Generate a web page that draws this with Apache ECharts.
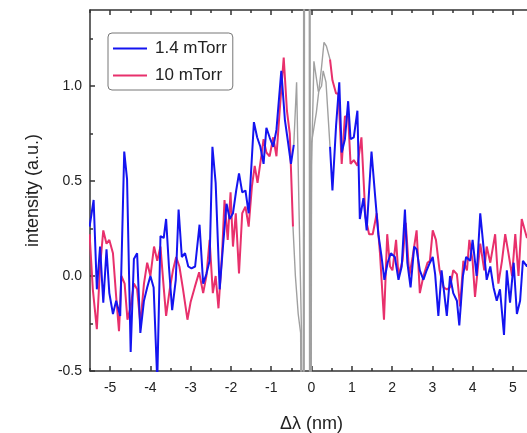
<!DOCTYPE html>
<html><head><meta charset="utf-8">
<script src="https://cdn.jsdelivr.net/npm/echarts@6/dist/echarts.min.js"></script>
<style>html,body{margin:0;padding:0;background:#fff}#c{width:527px;height:433px}</style>
</head><body><div id="c"></div>
<script>
// ---- data (Δλ in nm, intensity in a.u.) ----
var blueLeftX = [-5.51,-5.41,-5.33,-5.25,-5.17,-5.09,-5.02,-4.93,-4.85,-4.75,-4.65,-4.58,-4.49,-4.41,-4.33,-4.25,-4.16,-4.08,-4.00,-3.92,-3.83,-3.75,-3.67,-3.61,-3.54,-3.46,-3.37,-3.30,-3.22,-3.14,-3.06,-2.98,-2.89,-2.78,-2.69,-2.61,-2.53,-2.46,-2.38,-2.28,-2.20,-2.11,-2.03,-1.95,-1.87,-1.80,-1.72,-1.64,-1.56,-1.43,-1.35,-1.27,-1.19,-1.12,-1.04,-0.95,-0.87,-0.75,-0.66,-0.58,-0.51,-0.44];
var blueLeftY = [0.26,0.40,-0.07,0.155,-0.14,0.14,-0.09,-0.20,-0.13,-0.21,0.655,0.51,-0.40,0.09,0.12,-0.30,-0.13,-0.06,0.00,-0.06,-0.55,0.21,0.20,0.30,0.05,-0.18,-0.02,0.35,0.10,0.12,0.05,0.04,0.05,0.27,-0.04,0.01,0.08,0.68,0.49,-0.07,0.15,0.38,0.30,0.33,0.45,0.54,0.44,0.45,0.33,0.81,0.73,0.68,0.59,0.78,0.73,0.68,0.77,1.08,0.82,0.70,0.59,0.69];
var blueRightX = [0.46,0.52,0.61,0.69,0.75,0.83,0.91,0.97,1.05,1.14,1.20,1.29,1.37,1.49,1.58,1.66,1.74,1.81,1.89,1.97,2.07,2.16,2.24,2.32,2.38,2.46,2.55,2.61,2.69,2.78,2.86,2.94,3.01,3.07,3.15,3.23,3.36,3.44,3.52,3.61,3.67,3.76,3.84,3.94,4.00,4.10,4.19,4.27,4.35,4.44,4.52,4.60,4.68,4.78,4.85,4.93,5.02,5.10,5.18,5.25,5.35,5.45];
var blueRightY = [0.68,0.45,0.79,1.02,0.65,0.72,0.92,0.72,0.73,0.87,0.30,0.41,0.24,0.655,0.42,0.22,0.10,-0.02,0.07,0.12,0.10,-0.02,0.05,0.35,0.07,-0.06,0.155,0.14,0.03,-0.02,0.03,0.07,0.10,0.01,-0.21,0.03,-0.21,0.00,-0.09,-0.13,-0.26,0.00,0.10,0.08,0.19,0.00,0.33,0.155,-0.02,0.05,-0.06,-0.13,-0.07,-0.31,0.03,-0.14,0.07,-0.20,-0.13,0.08,0.05,0.10];
var redLeftX = [-5.51,-5.43,-5.33,-5.25,-5.17,-5.09,-5.02,-4.93,-4.85,-4.78,-4.72,-4.64,-4.57,-4.49,-4.41,-4.33,-4.25,-4.16,-4.08,-4.00,-3.91,-3.83,-3.75,-3.67,-3.61,-3.52,-3.44,-3.36,-3.28,-3.19,-3.08,-3.00,-2.90,-2.79,-2.69,-2.61,-2.53,-2.45,-2.38,-2.31,-2.22,-2.16,-2.08,-2.01,-1.95,-1.88,-1.80,-1.72,-1.64,-1.56,-1.48,-1.41,-1.34,-1.26,-1.19,-1.12,-1.04,-0.95,-0.87,-0.79,-0.69,-0.61,-0.54,-0.46];
var redLeftY = [0.22,-0.07,-0.28,0.05,0.24,0.17,0.19,0.12,-0.11,-0.29,0.00,-0.04,-0.23,-0.16,-0.04,-0.07,-0.25,-0.04,0.07,0.00,0.155,0.08,0.155,-0.06,-0.21,-0.07,0.03,0.10,0.05,-0.07,-0.23,-0.135,-0.06,0.02,-0.09,0.00,0.19,-0.09,0.00,-0.17,0.12,0.40,0.19,0.44,0.155,0.33,0.014,0.33,0.365,0.26,0.47,0.58,0.49,0.61,0.72,0.65,0.63,0.73,0.63,0.87,1.15,0.87,0.75,0.26];
var redRightX = [0.46,0.52,0.61,0.67,0.75,0.83,0.91,0.97,1.05,1.14,1.24,1.34,1.43,1.52,1.62,1.70,1.80,1.88,1.95,2.01,2.10,2.16,2.26,2.34,2.43,2.51,2.61,2.69,2.78,2.88,2.94,3.01,3.09,3.18,3.28,3.36,3.44,3.52,3.61,3.69,3.77,3.86,3.92,4.00,4.06,4.19,4.29,4.35,4.44,4.56,4.64,4.73,4.81,4.89,4.98,5.06,5.14,5.22,5.35,5.45];
var redRightY = [1.14,1.03,0.96,0.96,0.59,0.84,0.84,0.59,0.61,0.58,0.73,0.31,0.22,0.22,0.33,0.12,-0.23,0.22,0.05,0.03,0.19,0.00,0.08,0.28,0.00,0.10,0.24,-0.09,0.00,0.07,0.08,0.24,0.19,0.03,-0.06,-0.07,-0.06,0.03,0.01,-0.16,0.08,0.03,0.19,0.08,-0.11,0.17,0.03,0.155,0.07,0.22,-0.04,0.08,0.22,0.12,0.00,0.22,0.00,0.30,0.20,0.25];
// masked central region (laser line), drawn in grey
var grayAX = [-0.44,-0.37,-0.31,-0.25,-0.19,-0.17,-0.04,-0.02,0.00,0.06,0.17,0.25,0.29,0.36,0.46];
var grayAY = [0.69,1.02,0.35,-0.28,-3,3,3,-3,0.58,1.13,0.97,1.00,1.08,1.02,0.68];
var grayBX = [-0.46,-0.40,-0.33,-0.27,-0.21,-0.19,-0.06,-0.04,0.00,0.12,0.25,0.31,0.37,0.46];
var grayBY = [0.26,0.00,-0.20,-0.30,-3,3,3,-3,0.70,0.86,1.10,1.23,1.21,1.14];
var xTickLabels = [-5,-4,-3,-2,-1,0,1,2,3,4,5];
var xMinorTicks = [-5.5,-4.5,-3.5,-2.5,-1.5,-0.5,0.5,1.5,2.5,3.5,4.5,5.5];
var yTickLabels = [-0.5,0,0.5,1.0];
var yMinorTicks = [-0.25,0.25,0.75,1.25];
var seriesNames = ['1.4 mTorr','10 mTorr'];

function zip(xs, ys){ return xs.map(function(x,i){ return [x, ys[i]]; }); }
var blueData = zip(blueLeftX, blueLeftY).concat([[0, null]], zip(blueRightX, blueRightY));
var redData = zip(redLeftX, redLeftY).concat([[0, null]], zip(redRightX, redRightY));

var FONT = 'Liberation Sans';
var axisCol = '#333';
var BLUE = '#1414f0', RED = '#e8306c';
var chart = echarts.init(document.getElementById('c'), null, {renderer:'canvas'});
var xBase = {type:'value', min:-5.5, max:5.5, splitLine:{show:false}};
var yBase = {type:'value', min:-0.5, max:1.4, splitLine:{show:false}};
chart.setOption({
  animation:false,
  backgroundColor:'#fff',
  grid:{left:90, right:-6, top:10, bottom:62, containLabel:false, outerBoundsMode:'none'},
  legend:{
    data:[{name:seriesNames[0], icon:'rect', itemStyle:{color:BLUE}},
          {name:seriesNames[1], icon:'rect', itemStyle:{color:RED}}],
    orient:'vertical', left:108, top:33,
    padding:[6,6,5,5], itemGap:8, itemWidth:34, itemHeight:2,
    borderColor:'#777', borderWidth:1, borderRadius:4,
    textStyle:{fontFamily:FONT, fontSize:17, color:'#222', padding:[0,0,0,3], lineHeight:19}
  },
  xAxis:[
    Object.assign({}, xBase, {position:'bottom',
      name:'Δλ (nm)', nameLocation:'middle', nameGap:44,
      nameTextStyle:{fontFamily:FONT, fontSize:18, color:'#222'},
      axisLine:{show:true, onZero:false, lineStyle:{color:axisCol, width:1.5}},
      axisTick:{show:true, inside:true, length:5, customValues:xTickLabels, lineStyle:{color:axisCol, width:1.5}},
      axisLabel:{show:true, customValues:xTickLabels, fontFamily:FONT, fontSize:14, color:'#222', margin:10}}),
    Object.assign({}, xBase, {position:'bottom',
      axisLine:{show:false, onZero:false},
      axisTick:{show:true, inside:true, length:3, customValues:xMinorTicks, lineStyle:{color:axisCol, width:1.5}},
      axisLabel:{show:false}}),
    Object.assign({}, xBase, {position:'top',
      axisLine:{show:true, onZero:false, lineStyle:{color:axisCol, width:1.5}},
      axisTick:{show:true, inside:true, length:5, customValues:xTickLabels, lineStyle:{color:axisCol, width:1.5}},
      axisLabel:{show:false}}),
    Object.assign({}, xBase, {position:'top',
      axisLine:{show:false, onZero:false},
      axisTick:{show:true, inside:true, length:3, customValues:xMinorTicks, lineStyle:{color:axisCol, width:1.5}},
      axisLabel:{show:false}})
  ],
  yAxis:[
    Object.assign({}, yBase, {position:'left',
      name:'intensity (a.u.)', nameLocation:'middle', nameGap:48, nameRotate:90,
      nameTextStyle:{fontFamily:FONT, fontSize:18, color:'#222'},
      axisLine:{show:true, onZero:false, lineStyle:{color:axisCol, width:1.5}},
      axisTick:{show:true, inside:true, length:5, customValues:yTickLabels, lineStyle:{color:axisCol, width:1.5}},
      axisLabel:{show:true, customValues:yTickLabels, fontFamily:FONT, fontSize:14, color:'#222', margin:8,
        formatter:function(v){ return v.toFixed(1); }}}),
    Object.assign({}, yBase, {position:'left',
      axisLine:{show:false, onZero:false},
      axisTick:{show:true, inside:true, length:3, customValues:yMinorTicks, lineStyle:{color:axisCol, width:1.5}},
      axisLabel:{show:false}})
  ],
  series:[
    {name:'grayA', type:'line', data:zip(grayAX, grayAY), symbol:'none', clip:true, silent:true,
      lineStyle:{color:'#a0a0a0', width:1.4}, z:1},
    {name:'grayB', type:'line', data:zip(grayBX, grayBY), symbol:'none', clip:true, silent:true,
      lineStyle:{color:'#a0a0a0', width:1.4}, z:1},
    {name:seriesNames[0], type:'line', data:blueData, symbol:'none', clip:true, connectNulls:false,
      color:BLUE, lineStyle:{color:BLUE, width:2}, z:3},
    {name:seriesNames[1], type:'line', data:redData, symbol:'none', clip:true, connectNulls:false,
      color:RED, lineStyle:{color:RED, width:2}, z:2}
  ]
});
</script></body></html>
